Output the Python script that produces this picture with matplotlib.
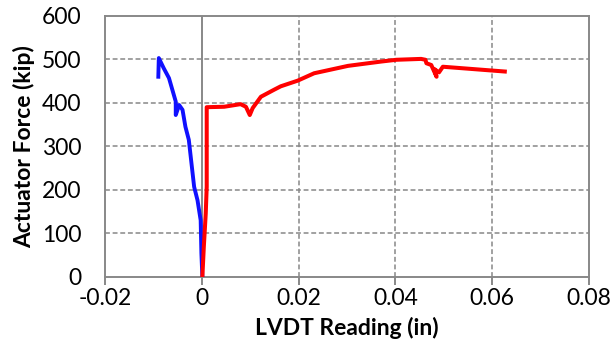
import matplotlib
matplotlib.use("Agg")
import matplotlib.pyplot as plt

plt.rcParams['font.family'] = ['Lato', 'DejaVu Sans']

# Loading branch toward negative LVDT readings
blue_x = [0.0001, -0.0001, -0.00025, -0.0009, -0.0016, -0.0027, -0.0034, -0.0040,
          -0.0047, -0.0054, -0.0054, -0.0061, -0.0068, -0.0079, -0.0089, -0.0090]
blue_y = [0, 54, 130, 176, 207, 315, 345, 384, 395, 372, 403, 430, 457, 480, 503, 460]

# Loading branch toward positive LVDT readings
red_x = [0.0001, 0.0004, 0.0008, 0.0010, 0.0010, 0.0046, 0.0080, 0.0091, 0.0099,
         0.0105, 0.0122, 0.0149, 0.0163, 0.0198, 0.0232, 0.0302, 0.0371, 0.0402,
         0.0453, 0.0462, 0.0464, 0.0474, 0.0485, 0.0480, 0.0490, 0.0498, 0.0626]
red_y = [0, 69, 146, 207, 390, 391, 397, 391, 372, 388, 414, 430, 438, 451, 468,
         485, 495, 499, 501, 499, 491, 487, 460, 478, 470, 483, 472]

x_ticks = [-0.02, 0, 0.02, 0.04, 0.06, 0.08]
x_labels = ['-0.02', '0', '0.02', '0.04', '0.06', '0.08']
y_ticks = [0, 100, 200, 300, 400, 500, 600]

grey = '#888888'

fig = plt.figure(figsize=(6.11, 3.60), dpi=100)
ax = fig.add_axes([0.172, 0.231, 0.792, 0.725])

ax.set_xlim(-0.02, 0.08)
ax.set_ylim(0, 600)

# dashed grid at the interior tick positions
for xv in x_ticks[1:-1]:
    if xv != 0:
        ax.axvline(xv, color=grey, lw=1.1, ls=(0, (3.2, 1.8)), zorder=1)
for yv in y_ticks[1:-1]:
    ax.axhline(yv, color=grey, lw=1.1, ls=(0, (3.2, 1.8)), zorder=1)

# value axis crossing at zero
ax.axvline(0, color=grey, lw=1.4, zorder=1.5)

ax.plot(blue_x, blue_y, color='#1010ff', lw=2.8, solid_joinstyle='round', zorder=3)
ax.plot(red_x, red_y, color='#ff0000', lw=2.9, solid_joinstyle='round', zorder=3)

for s in ax.spines.values():
    s.set_color(grey)
    s.set_linewidth(1.4)

ax.set_xticks(x_ticks)
ax.set_xticklabels(x_labels)
ax.set_yticks(y_ticks)
ax.tick_params(axis='x', direction='out', length=6, width=1.4, color=grey,
               labelsize=16.5, pad=2)
ax.tick_params(axis='y', length=0, labelsize=16.5, pad=17)

ax.set_xlabel('LVDT Reading (in)', fontsize=16.5, fontweight='bold', labelpad=6)
ax.set_ylabel('Actuator Force (kip)', fontsize=16.5, fontweight='bold', labelpad=5)

fig.savefig('out.png', dpi=100)
